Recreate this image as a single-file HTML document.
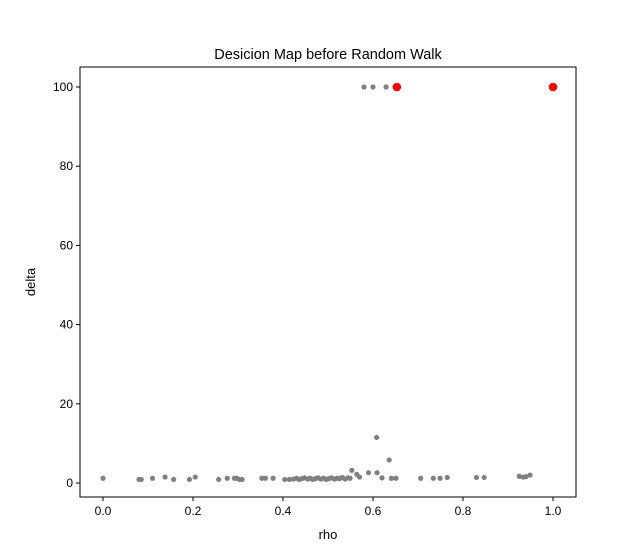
<!DOCTYPE html>
<html><head><meta charset="utf-8"><style>
body{margin:0;background:#fff;}
svg{display:block;font-family:"Liberation Sans","DejaVu Sans",sans-serif;}
</style></head><body>
<svg id="chart" width="640" height="560"></svg>
<script>
const greyRho=[0.0,0.08,0.085,0.11,0.138,0.157,0.192,0.205,0.257,0.276,0.292,0.297,0.303,0.309,0.353,0.361,0.378,0.404,0.414,0.423,0.43,0.436,0.442,0.448,0.455,0.46,0.466,0.472,0.478,0.484,0.49,0.496,0.502,0.508,0.514,0.52,0.526,0.532,0.538,0.544,0.549,0.553,0.564,0.57,0.59,0.608,0.609,0.636,0.62,0.641,0.651,0.706,0.734,0.749,0.765,0.83,0.847,0.925,0.934,0.94,0.949,0.58,0.6,0.629];
const greyDelta=[1.2,0.9,0.9,1.2,1.5,0.9,0.9,1.5,0.9,1.2,1.2,1.2,0.9,0.9,1.2,1.2,1.2,0.9,0.9,1.0,1.2,0.9,1.1,1.3,1.0,1.2,0.9,1.1,1.3,1.0,1.2,0.9,1.1,1.3,1.0,1.2,1.1,1.4,1.0,1.3,1.2,3.2,2.2,1.5,2.6,11.5,2.6,5.8,1.3,1.2,1.2,1.2,1.2,1.2,1.4,1.4,1.4,1.7,1.5,1.6,2.0,100,100,100];
const redRho=[0.653,1.0];
const redDelta=[100,100];
const xTicks=[0.0,0.2,0.4,0.6,0.8,1.0];
const yTicks=[0,20,40,60,80,100];
const NS="http://www.w3.org/2000/svg";
const svg=document.getElementById('chart');
const L=80,R=576,T=67,B=497;
const xs=v=>103+v*450;
const ys=v=>483-v*3.96;
function mk(t,a){const e=document.createElementNS(NS,t);for(const k in a)e.setAttribute(k,a[k]);svg.appendChild(e);return e;}
const frame=mk('rect',{x:L,y:T,width:R-L,height:B-T,fill:'none',stroke:'#000','stroke-width':1});


xTicks.forEach(v=>{const x=xs(v);
const tk=mk('line',{x1:x,x2:x,y1:B,y2:B+4,stroke:'#000'});


const t=mk('text',{x:x,y:B+18,'text-anchor':'middle','font-size':12});t.textContent=v.toFixed(1);

});
yTicks.forEach(v=>{const y=ys(v);
const tk=mk('line',{x1:L-4,x2:L,y1:y,y2:y,stroke:'#000'});


const t=mk('text',{x:L-7,y:y+4,'text-anchor':'end','font-size':12});t.textContent=v;

});
greyRho.forEach((r,i)=>{const c=mk('circle',{cx:xs(r),cy:ys(greyDelta[i]),r:2.6,fill:'#808080'});

});
redRho.forEach((r,i)=>{const c=mk('circle',{cx:xs(r),cy:ys(redDelta[i]),r:4.3,fill:'#ff0000'});

});
const title=mk('text',{x:328,y:59,'text-anchor':'middle','font-size':14.5});title.textContent='Desicion Map before Random Walk';


const xl=mk('text',{x:328,y:539,'text-anchor':'middle','font-size':13});xl.textContent='rho';


const yl=mk('text',{x:35,y:282,'text-anchor':'middle','font-size':13,transform:'rotate(-90 35 282)'});yl.textContent='delta';


</script>
</body></html>
